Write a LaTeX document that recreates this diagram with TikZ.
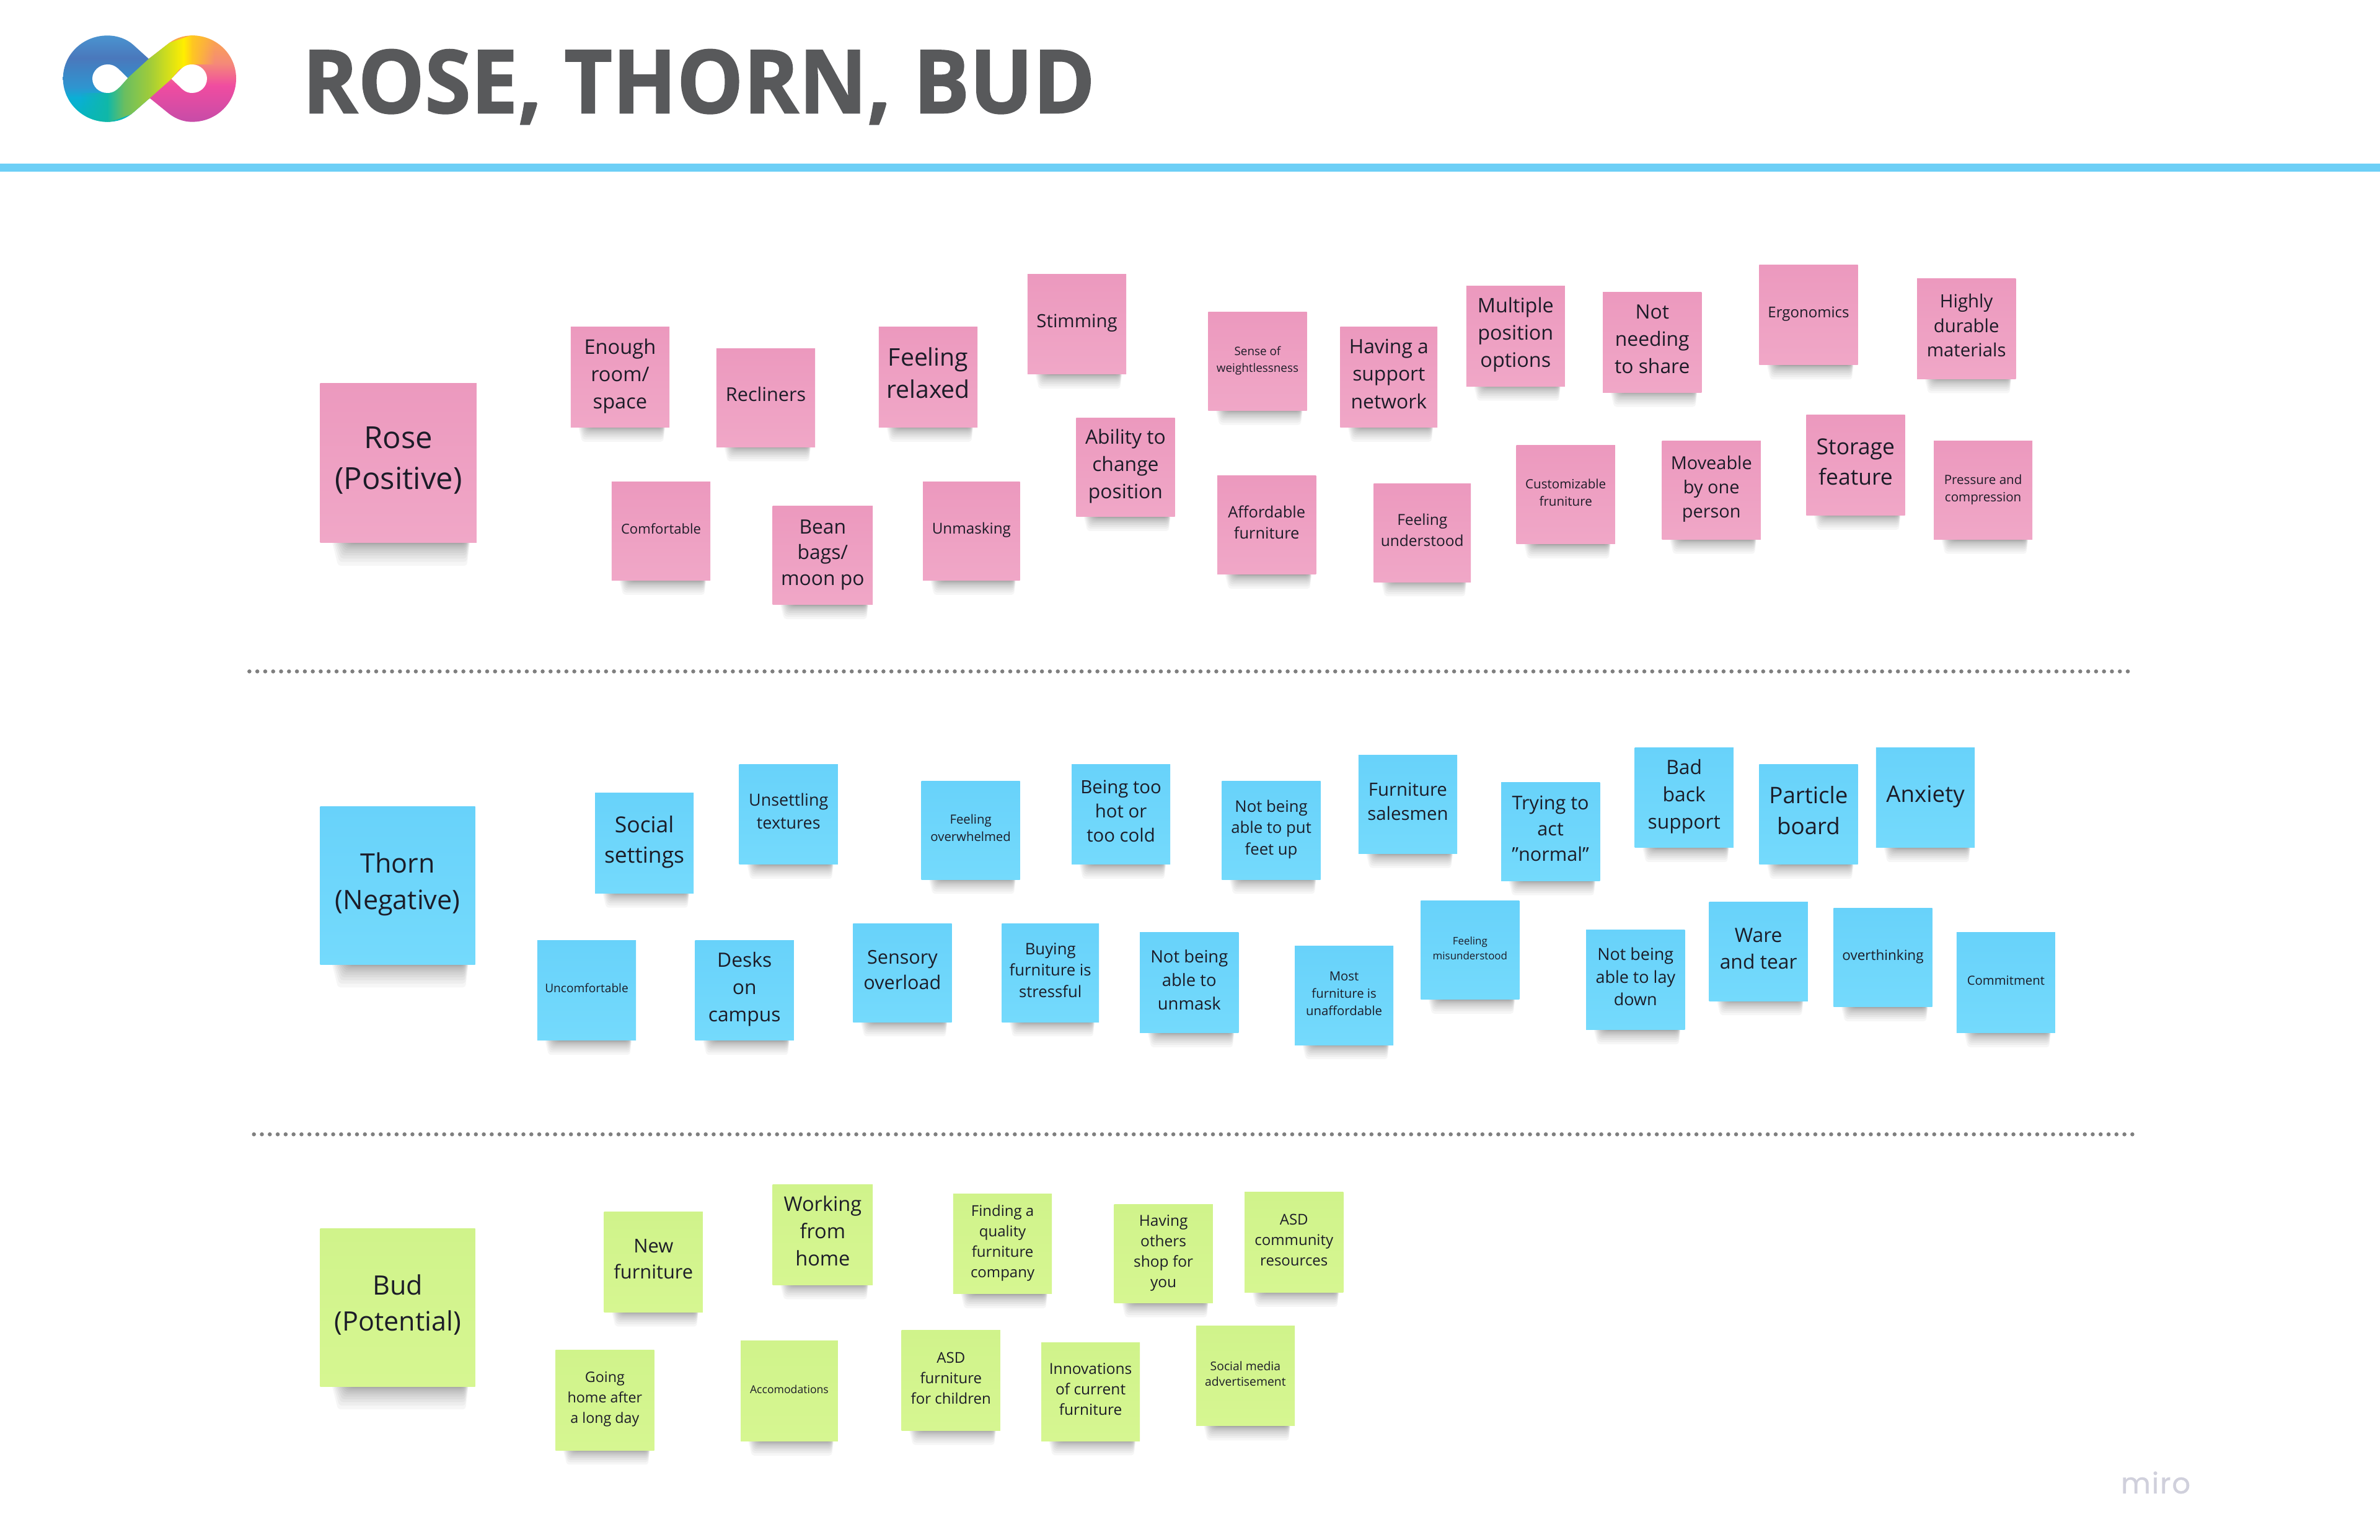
\documentclass[tikz,border=0pt]{standalone}
\usepackage{fontspec}
\usetikzlibrary{fadings}
\setmainfont{Open Sans}
\newfontfamily\miroface[LetterSpace=4,FakeBold=0.6]{Poppins}
\newfontfamily\titleface[BoldFeatures={FakeBold=1.2}]{Open Sans}
\definecolor{pinkT}{HTML}{EC99BE}
\definecolor{pinkB}{HTML}{F0A7C7}
\definecolor{blueT}{HTML}{68D2FA}
\definecolor{blueB}{HTML}{74DAFC}
\definecolor{greenT}{HTML}{D0F38B}
\definecolor{greenB}{HTML}{D6F691}
\definecolor{inkc}{HTML}{1C1C28}
\definecolor{titlec}{HTML}{58595B}
\definecolor{rulec}{HTML}{6DCFF6}
\definecolor{dotc}{HTML}{7F7F7F}
\definecolor{miroc}{HTML}{D0D0DC}
\definecolor{la}{HTML}{4A94D0}\definecolor{lb}{HTML}{4A78BC}\definecolor{lc}{HTML}{2E95D0}\definecolor{ld}{HTML}{0AAFD5}\definecolor{le}{HTML}{05B8B8}
\definecolor{ra}{HTML}{FBA848}\definecolor{rb}{HTML}{F58A78}\definecolor{rc}{HTML}{F04CA0}\definecolor{rd}{HTML}{C64CA8}
\definecolor{ba}{HTML}{3DB0E5}\definecolor{bb}{HTML}{7E80C0}\definecolor{bc}{HTML}{D24FA0}
\definecolor{ga}{HTML}{10B8A8}\definecolor{gb}{HTML}{6ABE60}\definecolor{gc}{HTML}{A0CC3A}\definecolor{gd}{HTML}{FFEE00}\definecolor{ge}{HTML}{FFC820}
\pgfdeclareverticalshading{lobeL}{100bp}{color(0bp)=(le);color(25bp)=(le);color(39bp)=(ld);color(45bp)=(lc);color(62bp)=(lb);color(75bp)=(la);color(100bp)=(la)}
\pgfdeclareverticalshading{lobeR}{100bp}{color(0bp)=(rd);color(25bp)=(rd);color(46bp)=(rc);color(59bp)=(rb);color(75bp)=(ra);color(100bp)=(ra)}
\pgfdeclarehorizontalshading{bandU}{100bp}{color(0bp)=(ba);color(25bp)=(ba);color(42bp)=(ba);color(52bp)=(bb);color(66bp)=(bc);color(75bp)=(bc);color(100bp)=(bc)}
\pgfdeclarehorizontalshading{bandG}{100bp}{color(0bp)=(ga);color(25bp)=(ga);color(35bp)=(gb);color(50bp)=(gc);color(70bp)=(gd);color(75bp)=(ge);color(100bp)=(ge)}
\tikzfading[name=bothfade,left color=transparent!100,middle color=transparent!0,right color=transparent!100]
\tikzfading[name=tofadeR,left color=transparent!0,right color=transparent!100]
\tikzfading[name=tofadeL,left color=transparent!100,right color=transparent!0]
\tikzset{
  notebox/.style={rectangle,inner sep=0pt,outer sep=0pt,text=inkc,align=center,anchor=center},
  pinkn/.style={notebox,top color=pinkT,bottom color=pinkB},
  bluen/.style={notebox,top color=blueT,bottom color=blueB},
  greenn/.style={notebox,top color=greenT,bottom color=greenB},
  dotrule/.style={dotc,line width=1.6pt,line cap=round,dash pattern=on 0pt off 3.133pt},
}
% name, x0, y0, x1, y1, style, font size, line spacing, text
\newcommand{\stickynote}[9]{%
  \foreach \i in {1,...,14}{%
    \pgfmathsetmacro{\wdx}{#4-#2}
    \pgfmathsetmacro{\htx}{#5-#3}
    \pgfmathsetmacro{\dep}{\htx*0.145*pow((15-\i)/14,2.4)}
    \pgfmathsetmacro{\insl}{\wdx*(0.065+0.009*\i)}
    \pgfmathsetmacro{\insr}{\wdx*(0.04+0.002*\i)}
    \fill[black,opacity=0.036,rounded corners=1pt]
      ({#2+\insl},{#5-0.5}) -- ({#4-\insr},{#5-0.5}) -- ({#4-\insr-0.02*\wdx},{#5+0.5+\dep}) -- ({#2+\insl+0.04*\wdx},{#5+0.5+\dep}) -- cycle;
  }%
  \node[#6,minimum width={(#4-#2)*0.6pt},minimum height={(#5-#3)*0.6pt},
    font={\fontsize{\dimexpr #7pt*6/10\relax}{\dimexpr #8pt*6/10\relax}\selectfont}]
    (#1) at ({(#2+#4)/2},{(#3+#5)/2+0.5}) {\rule{0pt}{1em}#9\rule[-0.6em]{0pt}{0.6em}};%
}
\begin{document}
\begin{tikzpicture}[x=0.6pt,y=-0.6pt]
\useasboundingbox (0,0) rectangle (1568,1014.7);
\fill[white] (0,0) rectangle (1568,1014.7);
% logo, drawn in crop pixels
\begin{scope}[shift={(32.67,16.33)},x=0.08167pt,y=-0.08167pt]
  \begin{scope}
  \clip (280,52) .. controls (330,52) and (375,70) .. (405,97) -- (480,165) -- (570,95)
    .. controls (600,70) and (640,52) .. (690,52)
    .. controls (810,52) and (903,145) .. (903,260)
    .. controls (903,375) and (810,470) .. (690,470)
    .. controls (640,470) and (600,450) .. (565,420) -- (485,355) -- (405,425)
    .. controls (370,455) and (330,470) .. (280,470)
    .. controls (160,470) and (65,375) .. (65,260)
    .. controls (65,145) and (160,52) .. (280,52) -- cycle;
  \shade[shading=lobeL] (60,50) rectangle (490,472);
  \shade[shading=lobeR] (480,50) rectangle (910,472);
  \shade[shading=bandU,path fading=bothfade] (300,60) -- (400,60) -- (490,150) -- (640,300) -- (730,320) -- (730,480) -- (600,480) -- (485,370) -- (330,230) -- cycle;
  \fill[ga,path fading=tofadeL] (150,330) rectangle (282,475);
  \shade[shading=bandG] (280,475) -- (405,430) -- (485,355) -- (590,262) -- (630,215) -- (690,192) -- (690,50) -- (570,90) -- (480,165) -- (378,258) -- (345,295) -- (280,330) -- cycle;
  \fill[ge,path fading=tofadeR] (688,50) rectangle (800,192);
  \end{scope}
  \fill[white] (280,192) .. controls (310,192) and (325,205) .. (345,225) -- (378,258) -- (345,295) .. controls (325,315) and (310,330) .. (280,330)
    .. controls (240,330) and (207,300) .. (207,260) .. controls (207,225) and (240,192) .. (280,192) -- cycle;
  \fill[white] (690,192) .. controls (660,192) and (645,205) .. (625,225) -- (590,262) -- (625,295) .. controls (645,315) and (660,330) .. (690,330)
    .. controls (730,330) and (762,300) .. (762,260) .. controls (762,225) and (730,192) .. (690,192) -- cycle;
\end{scope}
% title and rule
\node[anchor=base west,inner sep=0pt,text=titlec,xscale=0.953,font={\titleface\fontsize{34.8pt}{40pt}\bfseries\selectfont}] (title) at (199,74.5) {ROSE, THORN, BUD};
\fill[rulec] (0,108) rectangle (1568,113);
% dotted separators
\coordinate (sepAa) at (164.3,442.4);
\coordinate (sepAb) at (1402.4,442.4);
\coordinate (sepBa) at (167.3,747.4);
\coordinate (sepBb) at (1405.4,747.4);
\draw[dotrule] (sepAa) -- (sepAb);
\draw[dotrule] (sepBa) -- (sepBb);
% Rose
\stickynote{rose}{211}{252}{314}{357}{pinkn}{20}{27}{Rose\\(Positive)}
\stickynote{r1}{376}{215}{441}{281}{pinkn}{13.3}{18}{Enough\\room/\\space}
\stickynote{r2}{472}{229}{537}{294}{pinkn}{12.5}{16}{Recliners}
\stickynote{r3}{579}{215}{644}{281}{pinkn}{16}{21}{Feeling\\relaxed}
\stickynote{r4}{677}{180}{742}{246}{pinkn}{12}{16}{Stimming}
\stickynote{r5}{796}{205}{861}{270}{pinkn}{7.7}{11}{Sense of\\weightlessness}
\stickynote{r6}{883}{215}{947}{281}{pinkn}{13}{18}{Having a\\support\\network}
\stickynote{r7}{966}{188}{1031}{254}{pinkn}{13.2}{18}{Multiple\\position\\options}
\stickynote{r8}{1056}{192}{1121}{258}{pinkn}{13}{18}{Not\\needing\\to share}
\stickynote{r9}{1159}{174}{1224}{240}{pinkn}{9.8}{13}{Ergonomics}
\stickynote{r10}{1263}{183}{1328}{249}{pinkn}{12}{16}{Highly\\durable\\materials}
\stickynote{r11}{403}{317}{468}{382}{pinkn}{9}{12}{Comfortable}
\stickynote{r12}{509}{333}{575}{398}{pinkn}{13}{17}{Bean\\bags/\\moon po}
\stickynote{r13}{608}{317}{672}{382}{pinkn}{9.9}{13}{Unmasking}
\stickynote{r14}{709}{275}{774}{340}{pinkn}{13}{18}{Ability to\\change\\position}
\stickynote{r15}{802}{313}{867}{378}{pinkn}{10.4}{14}{Affordable\\furniture}
\stickynote{r16}{905}{318}{969}{383}{pinkn}{10}{14}{Feeling\\understood}
\stickynote{r17}{999}{293}{1064}{358}{pinkn}{8.4}{11.5}{Customizable\\fruniture}
\stickynote{r18}{1095}{290}{1160}{355}{pinkn}{11.8}{16}{Moveable\\by one\\person}
\stickynote{r19}{1190}{273}{1255}{339}{pinkn}{14.5}{20}{Storage\\feature}
\stickynote{r20}{1274}{290}{1339}{355}{pinkn}{8.4}{11.5}{Pressure and\\compression}
% Thorn
\stickynote{thorn}{211}{531}{313}{635}{bluen}{17.6}{24}{Thorn\\(Negative)}
\stickynote{t1}{392}{522}{457}{588}{bluen}{14.5}{20}{Social\\settings}
\stickynote{t2}{487}{503}{552}{569}{bluen}{11}{15}{Unsettling\\textures}
\stickynote{t3}{607}{514}{672}{579}{bluen}{8.3}{11.5}{Feeling\\overwhelmed}
\stickynote{t4}{706}{503}{771}{569}{bluen}{12}{16}{Being too\\hot or\\too cold}
\stickynote{t5}{805}{514}{870}{579}{bluen}{10.5}{14}{Not being\\able to put\\feet up}
\stickynote{t6}{895}{497}{960}{562}{bluen}{12}{16}{Furniture\\salesmen}
\stickynote{t7}{989}{515}{1054}{580}{bluen}{12.5}{17}{Trying to\\act\\\symbol{34}normal\symbol{34}}
\stickynote{t8}{1077}{492}{1142}{558}{bluen}{13}{18}{Bad\\back\\support}
\stickynote{t9}{1159}{503}{1224}{569}{bluen}{15}{20.5}{Particle\\board}
\stickynote{t10}{1236}{492}{1301}{558}{bluen}{15}{20}{Anxiety}
\stickynote{t11}{354}{619}{419}{685}{bluen}{7.8}{11}{Uncomfortable}
\stickynote{t12}{458}{619}{523}{685}{bluen}{13}{18}{Desks\\on\\campus}
\stickynote{t13}{562}{608}{627}{673}{bluen}{12.5}{16.5}{Sensory\\overload}
\stickynote{t14}{660}{608}{724}{673}{bluen}{10.5}{14}{Buying\\furniture is\\stressful}
\stickynote{t15}{751}{614}{816}{680}{bluen}{11.2}{15.5}{Not being\\able to\\unmask}
\stickynote{t16}{853}{623}{918}{688}{bluen}{8.3}{11.5}{Most\\furniture is\\unaffordable}
\stickynote{t17}{936}{593}{1001}{658}{bluen}{6.9}{10}{Feeling\\misunderstood}
\stickynote{t18}{1045}{612}{1110}{678}{bluen}{11}{15}{Not being\\able to lay\\down}
\stickynote{t19}{1126}{594}{1191}{659}{bluen}{13}{17.5}{Ware\\and tear}
\stickynote{t20}{1208}{598}{1273}{663}{bluen}{9.2}{12}{overthinking}
\stickynote{t21}{1289}{614}{1354}{680}{bluen}{8.3}{11.5}{Commitment}
% Bud
\stickynote{bud}{211}{809}{313}{913}{greenn}{17.6}{24}{Bud\\(Potential)}
\stickynote{b1}{398}{798}{463}{864}{greenn}{12.6}{17}{New\\furniture}
\stickynote{b2}{509}{780}{575}{846}{greenn}{13.3}{18}{Working\\from\\home}
\stickynote{b3}{628}{786}{693}{852}{greenn}{9.8}{13.5}{Finding a\\quality\\furniture\\company}
\stickynote{b4}{734}{793}{799}{858}{greenn}{10}{13.5}{Having\\others\\shop for\\you}
\stickynote{b5}{820}{785}{885}{851}{greenn}{9.8}{13.5}{ASD\\community\\resources}
\stickynote{b6}{366}{889}{431}{955}{greenn}{9.5}{13.5}{Going\\home after\\a long day}
\stickynote{b7}{488}{883}{552}{949}{greenn}{7.2}{10}{Accomodations}
\stickynote{b8}{594}{876}{659}{942}{greenn}{9.8}{13.5}{ASD\\furniture\\for children}
\stickynote{b9}{686}{884}{751}{949}{greenn}{10}{13.5}{Innovations\\of current\\furniture}
\stickynote{b10}{788}{873}{853}{939}{greenn}{7.9}{10.5}{Social media\\advertisement}
% watermark
\node[anchor=base west,inner sep=0pt,text=miroc,font={\miroface\fontsize{11.4pt}{14pt}\selectfont}] (miro) at (1397,984) {miro};
\end{tikzpicture}
\end{document}
